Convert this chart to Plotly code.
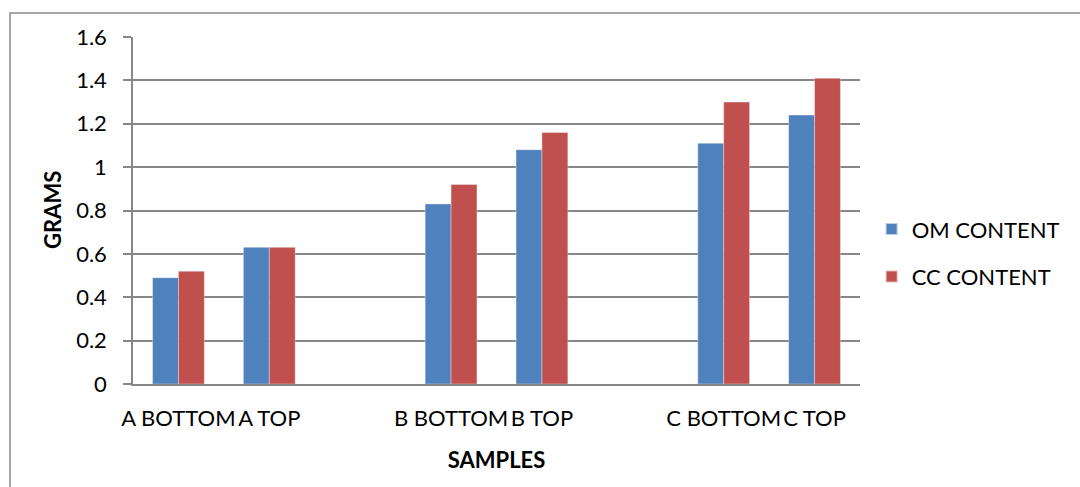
import plotly.graph_objects as go

# Sample categories; blank slots separate the A, B and C pairs
categories = ["A BOTTOM", "A TOP", " ", "B BOTTOM", "B TOP", "  ", "C BOTTOM", "C TOP"]
samples = ["A BOTTOM", "A TOP", "B BOTTOM", "B TOP", "C BOTTOM", "C TOP"]
om_content = [0.49, 0.63, 0.83, 1.08, 1.11, 1.24]
cc_content = [0.52, 0.63, 0.92, 1.16, 1.30, 1.41]

FONT = "Lato"
GRID = "#878787"

fig = go.Figure()
fig.add_trace(go.Bar(
    x=samples, y=om_content, name="OM CONTENT", legendgroup="om",
    marker=dict(color="#4F81BD", line=dict(color="rgba(255,255,255,0.6)", width=0.6)),
))
fig.add_trace(go.Bar(
    x=samples, y=cc_content, name="CC CONTENT", legendgroup="cc",
    marker=dict(color="#C0504D", line=dict(color="rgba(255,255,255,0.6)", width=0.6)),
))

fig.update_layout(
    width=1080, height=487,
    margin=dict(l=133, r=220, t=37, b=103),
    paper_bgcolor="white", plot_bgcolor="white",
    barmode="group", bargap=0.43, bargroupgap=0,
    font=dict(family=FONT, size=22, color="black"),
    legend=dict(
        x=1.016, xanchor="left", y=0.377, yanchor="middle",
        font=dict(family=FONT, size=22, color="black"),
        tracegroupgap=16, itemsizing="constant",
        bgcolor="rgba(0,0,0,0)",
    ),
    shapes=[dict(
        type="rect", xref="paper", yref="paper",
        x0=(10 - 133) / 727, x1=(1090 - 133) / 727,
        y0=(384 - 500) / 347, y1=(384 - 13) / 347,
        line=dict(color="#8a8a8a", width=1.5), fillcolor="rgba(0,0,0,0)", layer="below",
    )],
    annotations=[dict(
        text="<b>GRAMS</b>", textangle=-90, showarrow=False,
        xref="paper", yref="paper", x=(52 - 133) / 727, y=(384 - 210) / 347,
        xanchor="center", yanchor="middle",
        font=dict(family=FONT, size=22, color="black"),
    )],
)

fig.update_xaxes(
    type="category", categoryorder="array", categoryarray=categories,
    tickvals=categories, ticktext=categories,
    tickangle=0, showgrid=False, showline=True, linecolor=GRID, linewidth=1.5,
    ticks="", ticklabelstandoff=14,
    tickfont=dict(family=FONT, size=22, color="black"),
    title=dict(text="<b>SAMPLES</b>", font=dict(family=FONT, size=22, color="black"), standoff=22),
)
fig.update_yaxes(
    range=[0, 1.6], dtick=0.2, tick0=0,
    showgrid=True, gridcolor=GRID, gridwidth=1.5,
    showline=True, linecolor=GRID, linewidth=1.5,
    ticks="outside", ticklen=8, tickcolor=GRID, tickwidth=1.5,
    ticklabelstandoff=12, zeroline=False,
    tickfont=dict(family=FONT, size=22, color="black"),
)

fig.write_html("out.html")
